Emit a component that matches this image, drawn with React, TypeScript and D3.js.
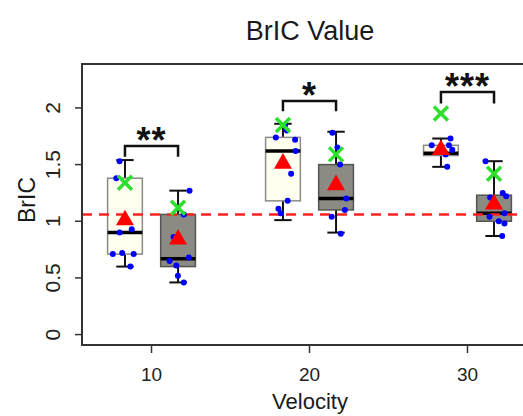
import React from "react";
import * as d3 from "d3";

// one entry per box: 10 / 20 / 30, first box light, second box dark
const boxVelocity = [10, 10, 20, 20, 30, 30];
const boxSeries = [0, 1, 0, 1, 0, 1];
const lowWhisker = [0.6, 0.46, 1.01, 0.9, 1.48, 0.87];
const lowerQuartile = [0.71, 0.6, 1.18, 1.1, 1.58, 1.0];
const medians = [0.9, 0.67, 1.62, 1.2, 1.6, 1.07];
const upperQuartile = [1.38, 1.06, 1.74, 1.5, 1.67, 1.23];
const highWhisker = [1.54, 1.27, 1.86, 1.79, 1.73, 1.53];
const means = [1.01, 0.84, 1.51, 1.32, 1.63, 1.15];
const crossValues = [1.34, 1.12, 1.85, 1.59, 1.95, 1.42];

// raw samples: [value, jitter as fraction of half box width]
const samples: [number, number][][] = [
  [[1.53, -0.31], [1.38, -0.5], [0.93, 0.39], [0.9, -0.31], [0.72, -0.16], [0.71, -0.7], [0.71, 0.5], [0.6, 0.31]],
  [[1.27, 0.66], [1.06, 0.33], [0.86, -0.26], [0.68, 0.62], [0.65, -0.49], [0.61, -0.1], [0.52, -0.01], [0.46, 0.33]],
  [[1.85, 0.12], [1.8, 0.22], [1.74, -0.41], [1.72, 0.7], [1.62, 0.73], [1.42, 0.47], [1.18, 0.27], [1.11, -0.26], [1.07, -0.13]],
  [[1.78, -0.21], [1.65, 0.08], [1.5, 0.23], [1.31, -0.02], [1.2, 0.59], [1.1, 0.51], [1.04, -0.25], [0.89, 0.27]],
  [[1.73, 0.55], [1.67, -0.53], [1.67, 0.46], [1.63, 0.65], [1.59, 0.27], [1.48, 0.36]],
  [[1.53, -0.49], [1.25, 0.5], [1.22, 0.7], [1.21, -0.22], [1.07, 0.6], [1.04, -0.26], [1.0, 0.27], [0.98, 0.6], [0.87, 0.47]],
];

const velocityTicks = [10, 20, 30];
const bricTicks = [0, 0.5, 1, 1.5, 2];
const referenceValue = 1.06;

const sigVelocity = [10, 20, 30];
const sigLabels = ["**", "*", "***"];
const sigTop = [1.665, 2.06, 2.14];
const sigEnd = [1.57, 1.97, 2.04];

const W = 523;
const H = 416;
const font = "'Liberation Sans', Arial, sans-serif";
const fills = ["#FFFFF0", "#8B8B83"];
const borders = ["#8a8a8a", "#555555"];

const App = () => {
  const x = d3.scaleLinear().domain([5.6, 34.4]).range([82, 537]);
  const y = d3.scaleLinear().domain([-0.092, 2.392]).range([345, 63.5]);

  const offset = 1.68; // velocity units between group centre and box centre
  const boxW = x(2.2) - x(0);
  const half = boxW / 2;
  const cx = (i: number) => x(boxVelocity[i] + (boxSeries[i] === 0 ? -offset : offset));

  const tri = d3.symbol().type(d3.symbolTriangle).size(140)();

  return (
    <svg width={W} height={H} style={{ position: "absolute", left: 0, top: 0 }} fontFamily={font}>
      <rect width={W} height={H} fill="#fff" />
      <text x={310} y={40} textAnchor="middle" fontSize={27} fill="#1a1a1a">
        BrIC Value
      </text>

      {/* boxes */}
      {boxVelocity.map((_, i) => {
        const c = cx(i);
        return (
          <g key={"b" + i}>
            <line x1={c} x2={c} y1={y(upperQuartile[i])} y2={y(highWhisker[i])} stroke="#111" strokeWidth={2} />
            <line x1={c} x2={c} y1={y(lowerQuartile[i])} y2={y(lowWhisker[i])} stroke="#111" strokeWidth={2} />
            <line x1={c - half / 2} x2={c + half / 2} y1={y(highWhisker[i])} y2={y(highWhisker[i])} stroke="#111" strokeWidth={2} />
            <line x1={c - half / 2} x2={c + half / 2} y1={y(lowWhisker[i])} y2={y(lowWhisker[i])} stroke="#111" strokeWidth={2} />
            <rect
              x={c - half}
              y={y(upperQuartile[i])}
              width={boxW}
              height={y(lowerQuartile[i]) - y(upperQuartile[i])}
              fill={fills[boxSeries[i]]}
              stroke={borders[boxSeries[i]]}
              strokeWidth={1.5}
            />
            <line x1={c - half} x2={c + half} y1={y(medians[i])} y2={y(medians[i])} stroke="#000" strokeWidth={3.5} />
          </g>
        );
      })}

      {/* reference line */}
      <line
        x1={x.range()[0]}
        x2={x.range()[1]}
        y1={y(referenceValue)}
        y2={y(referenceValue)}
        stroke="#ff2020"
        strokeWidth={2.5}
        strokeDasharray="10 7"
      />

      {/* samples */}
      {samples.map((pts, i) =>
        pts.map(([v, j], k) => <circle key={`p${i}-${k}`} cx={cx(i) + j * half} cy={y(v)} r={3} fill="#0000ff" />)
      )}

      {/* means */}
      {means.map((m, i) => (
        <path key={"m" + i} d={tri || ""} transform={`translate(${cx(i)},${y(m)})`} fill="#ff0000" />
      ))}

      {/* crosses */}
      {crossValues.map((v, i) => {
        const c = cx(i);
        const cy = y(v);
        const s = 7;
        return (
          <g key={"x" + i} stroke="#2de02d" strokeWidth={3.5}>
            <line x1={c - s} x2={c + s} y1={cy - s} y2={cy + s} />
            <line x1={c - s} x2={c + s} y1={cy + s} y2={cy - s} />
          </g>
        );
      })}

      {/* significance brackets */}
      {sigVelocity.map((v, i) => {
        const l = x(v - offset);
        const r = x(v + offset);
        return (
          <g key={"s" + i}>
            <path
              d={`M${l},${y(sigEnd[i])}V${y(sigTop[i])}H${r}V${y(sigEnd[i])}`}
              fill="none"
              stroke="#111"
              strokeWidth={2.5}
            />
            <text
              x={(l + r) / 2}
              y={y(sigTop[i]) + 7}
              textAnchor="middle"
              fontSize={36}
              fontWeight="bold"
              letterSpacing={1}
              fill="#111"
            >
              {sigLabels[i]}
            </text>
          </g>
        );
      })}

      {/* frame */}
      <rect x={82} y={64} width={455} height={281} fill="none" stroke="#333" strokeWidth={2} />

      {/* y axis */}
      {bricTicks.map((t) => (
        <g key={"yt" + t}>
          <line x1={75} x2={82} y1={y(t)} y2={y(t)} stroke="#333" strokeWidth={1.5} />
          <text transform={`translate(60,${y(t)}) rotate(-90)`} textAnchor="middle" fontSize={21} fill="#222">
            {t}
          </text>
        </g>
      ))}
      <text transform="translate(35,200) rotate(-90)" textAnchor="middle" fontSize={23} fill="#1a1a1a">
        BrIC
      </text>

      {/* x axis */}
      {velocityTicks.map((t) => (
        <g key={"xt" + t}>
          <line x1={x(t)} x2={x(t)} y1={345} y2={353} stroke="#333" strokeWidth={1.5} />
          <text x={x(t)} y={381} textAnchor="middle" fontSize={19} fill="#222">
            {t}
          </text>
        </g>
      ))}
      <text x={310} y={409} textAnchor="middle" fontSize={22} fill="#1a1a1a">
        Velocity
      </text>
    </svg>
  );
};

export default App;
